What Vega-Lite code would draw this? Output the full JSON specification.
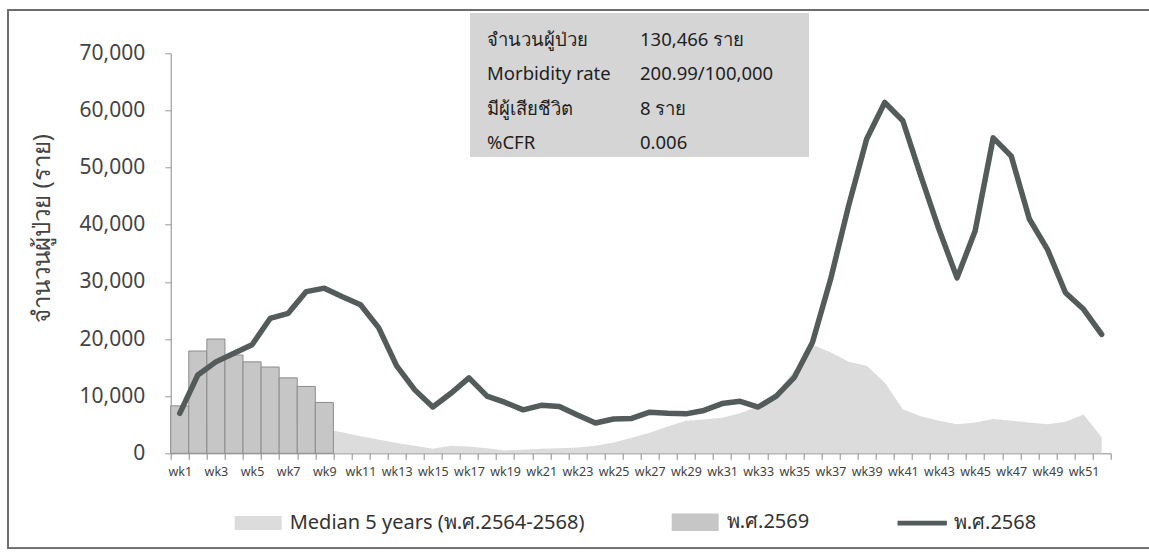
{
  "$schema": "https://vega.github.io/schema/vega-lite/v6.json",
  "width": 940,
  "height": 400,
  "autosize": {"type": "none"},
  "padding": {"left": 170.7, "top": 53.3, "right": 38.3, "bottom": 99.7},
  "background": "#ffffff",
  "config": {"view": {"stroke": null}, "font": "Noto Sans"},
  "datasets": {
    "weeks": [
      {"week": "wk1", "median": 5000, "y2569": 8300, "y2568": 7000},
      {"week": "wk2", "median": 5500, "y2569": 17900, "y2568": 13700},
      {"week": "wk3", "median": 5800, "y2569": 20000, "y2568": 16000},
      {"week": "wk4", "median": 5600, "y2569": 17200, "y2568": 17500},
      {"week": "wk5", "median": 5300, "y2569": 16000, "y2568": 19000},
      {"week": "wk6", "median": 5000, "y2569": 15100, "y2568": 23600},
      {"week": "wk7", "median": 4800, "y2569": 13200, "y2568": 24500},
      {"week": "wk8", "median": 4500, "y2569": 11700, "y2568": 28300},
      {"week": "wk9", "median": 4200, "y2569": 8900, "y2568": 28900},
      {"week": "wk10", "median": 3700, "y2569": null, "y2568": 27400},
      {"week": "wk11", "median": 3000, "y2569": null, "y2568": 26000},
      {"week": "wk12", "median": 2400, "y2569": null, "y2568": 22000},
      {"week": "wk13", "median": 1800, "y2569": null, "y2568": 15300},
      {"week": "wk14", "median": 1300, "y2569": null, "y2568": 11100},
      {"week": "wk15", "median": 800, "y2569": null, "y2568": 8100},
      {"week": "wk16", "median": 1300, "y2569": null, "y2568": 10500},
      {"week": "wk17", "median": 1200, "y2569": null, "y2568": 13200},
      {"week": "wk18", "median": 900, "y2569": null, "y2568": 10000},
      {"week": "wk19", "median": 500, "y2569": null, "y2568": 8900},
      {"week": "wk20", "median": 600, "y2569": null, "y2568": 7600},
      {"week": "wk21", "median": 800, "y2569": null, "y2568": 8400},
      {"week": "wk22", "median": 900, "y2569": null, "y2568": 8200},
      {"week": "wk23", "median": 1000, "y2569": null, "y2568": 6700},
      {"week": "wk24", "median": 1300, "y2569": null, "y2568": 5300},
      {"week": "wk25", "median": 1900, "y2569": null, "y2568": 6000},
      {"week": "wk26", "median": 2700, "y2569": null, "y2568": 6100},
      {"week": "wk27", "median": 3600, "y2569": null, "y2568": 7200},
      {"week": "wk28", "median": 4700, "y2569": null, "y2568": 7000},
      {"week": "wk29", "median": 5700, "y2569": null, "y2568": 6900},
      {"week": "wk30", "median": 5900, "y2569": null, "y2568": 7500},
      {"week": "wk31", "median": 6200, "y2569": null, "y2568": 8700},
      {"week": "wk32", "median": 7000, "y2569": null, "y2568": 9100},
      {"week": "wk33", "median": 8200, "y2569": null, "y2568": 8100},
      {"week": "wk34", "median": 10500, "y2569": null, "y2568": 10000},
      {"week": "wk35", "median": 14500, "y2569": null, "y2568": 13300},
      {"week": "wk36", "median": 19000, "y2569": null, "y2568": 19400},
      {"week": "wk37", "median": 17700, "y2569": null, "y2568": 30400},
      {"week": "wk38", "median": 16000, "y2569": null, "y2568": 43300},
      {"week": "wk39", "median": 15300, "y2569": null, "y2568": 55000},
      {"week": "wk40", "median": 12400, "y2569": null, "y2568": 61400},
      {"week": "wk41", "median": 7700, "y2569": null, "y2568": 58200},
      {"week": "wk42", "median": 6500, "y2569": null, "y2568": 48500},
      {"week": "wk43", "median": 5700, "y2569": null, "y2568": 39200},
      {"week": "wk44", "median": 5100, "y2569": null, "y2568": 30700},
      {"week": "wk45", "median": 5400, "y2569": null, "y2568": 38900},
      {"week": "wk46", "median": 6000, "y2569": null, "y2568": 55200},
      {"week": "wk47", "median": 5700, "y2569": null, "y2568": 52000},
      {"week": "wk48", "median": 5400, "y2569": null, "y2568": 41000},
      {"week": "wk49", "median": 5100, "y2569": null, "y2568": 35700},
      {"week": "wk50", "median": 5500, "y2569": null, "y2568": 28100},
      {"week": "wk51", "median": 6800, "y2569": null, "y2568": 25200},
      {"week": "wk52", "median": 2800, "y2569": null, "y2568": 20800}
    ],
    "summary": [
      {"row": 1, "label": "จำนวนผู้ป่วย", "value": "130,466 ราย"},
      {"row": 2, "label": "Morbidity rate", "value": "200.99/100,000"},
      {"row": 3, "label": "มีผู้เสียชีวิต", "value": "8 ราย"},
      {"row": 4, "label": "%CFR", "value": "0.006"}
    ],
    "series": [
      {"series": "Median 5 years (พ.ศ.2564-2568)"},
      {"series": "พ.ศ.2569"},
      {"series": "พ.ศ.2568"}
    ]
  },
  "layer": [
    {
      "data": {"name": "weeks"},
      "encoding": {
        "x": {
          "field": "week",
          "type": "ordinal",
          "sort": null,
          "scale": {"paddingInner": 0, "paddingOuter": 0},
          "axis": {
            "title": null,
            "labelAngle": 0,
            "labelOverlap": false,
            "labelExpr": "parseInt(substring(datum.value, 2)) % 2 == 1 ? datum.value : ''",
            "tickBand": "extent",
            "labelFontSize": 12.5,
            "labelColor": "#444444",
            "domainColor": "#8a8a8a",
            "tickColor": "#8a8a8a",
            "tickSize": 6,
            "labelPadding": 6
          }
        }
      },
      "layer": [
        {
          "mark": {"type": "area", "color": "#dcdcdc", "opacity": 1},
          "encoding": {
            "y": {
              "field": "median",
              "type": "quantitative",
              "scale": {"domain": [0, 70000], "nice": false},
              "axis": {
                "title": "จำนวนผู้ป่วย (ราย)",
                "titleFontSize": 24,
                "titleFontWeight": "normal",
                "titleColor": "#444444",
                "titleX": -128.7,
                "titleY": 174.7,
                "titleBaseline": "middle",
                "values": [0, 10000, 20000, 30000, 40000, 50000, 60000, 70000],
                "format": ",d",
                "grid": false,
                "labelFontSize": 21,
                "labelColor": "#444444",
                "labelPadding": 20,
                "domainColor": "#8a8a8a",
                "tickColor": "#9a9a9a",
                "tickSize": 6
              }
            }
          }
        },
        {
          "transform": [{"filter": "datum.y2569 != null"}],
          "mark": {"type": "bar", "color": "#c6c6c6", "stroke": "#8c8c8c", "strokeWidth": 1, "opacity": 1},
          "encoding": {
            "y": {"field": "y2569", "type": "quantitative", "title": "จำนวนผู้ป่วย (ราย)"}
          }
        },
        {
          "mark": {"type": "line", "color": "#545b5b", "strokeWidth": 5.5, "strokeJoin": "round", "strokeCap": "round"},
          "encoding": {
            "y": {"field": "y2568", "type": "quantitative", "title": "จำนวนผู้ป่วย (ราย)"}
          }
        }
      ]
    },
    {
      "data": {"name": "summary"},
      "layer": [
        {
          "mark": {"type": "rect", "fill": null, "stroke": "#6e6e6e", "strokeWidth": 1.5, "clip": false},
          "encoding": {
            "x": {"datum": -9.0, "type": "quantitative", "scale": {"domain": [0, 52], "nice": false, "zero": false}, "axis": null},
            "x2": {"datum": 54.6},
            "y": {"datum": 0.126, "type": "quantitative", "scale": {"domain": [1, 4], "range": [-13.3, 89.7], "nice": false, "zero": false}, "axis": null},
            "y2": {"datum": 15.8}
          }
        },
        {
          "mark": {"type": "rect", "color": "#d5d5d5", "clip": false},
          "encoding": {
            "x": {"datum": 16.56, "type": "quantitative"},
            "x2": {"datum": 35.31},
            "y": {"datum": 0.222, "type": "quantitative"},
            "y2": {"datum": 4.399}
          }
        },
        {
          "mark": {"type": "text", "align": "left", "baseline": "middle", "fontSize": 18.5, "color": "#1e1e1e", "clip": false},
          "encoding": {
            "x": {"datum": 17.5, "type": "quantitative"},
            "y": {"field": "row", "type": "quantitative"},
            "text": {"field": "label"}
          }
        },
        {
          "mark": {"type": "text", "align": "left", "baseline": "middle", "fontSize": 18.5, "color": "#1e1e1e", "clip": false},
          "encoding": {
            "x": {"datum": 25.96, "type": "quantitative"},
            "y": {"field": "row", "type": "quantitative"},
            "text": {"field": "value"}
          }
        }
      ]
    },
    {
      "data": {"name": "series"},
      "transform": [{"filter": "false"}],
      "mark": {"type": "point", "filled": true, "opacity": 1},
      "encoding": {
        "fill": {
          "field": "series",
          "type": "nominal",
          "scale": {
            "domain": ["Median 5 years (พ.ศ.2564-2568)", "พ.ศ.2569", "พ.ศ.2568"],
            "range": ["#dcdcdc", "#c6c6c6", "#545b5b"]
          },
          "legend": {
            "orient": "none",
            "legendX": 63,
            "legendY": 444,
            "direction": "horizontal",
            "title": null,
            "symbolSize": 2209,
            "symbolOpacity": 1,
            "labelFontSize": 20,
            "labelColor": "#333333",
            "labelOffset": 7,
            "columnPadding": 84,
            "labelLimit": 400
          }
        },
        "shape": {
          "field": "series",
          "type": "nominal",
          "scale": {
            "domain": ["Median 5 years (พ.ศ.2564-2568)", "พ.ศ.2569", "พ.ศ.2568"],
            "range": ["M-1,-0.3H1V0.3H-1Z", "M-1,-0.37H1V0.37H-1Z", "M-1.05,-0.1H1.05V0.1H-1.05Z"]
          },
          "legend": {
            "orient": "none",
            "legendX": 63,
            "legendY": 444,
            "direction": "horizontal",
            "title": null,
            "symbolSize": 2209,
            "symbolOpacity": 1,
            "labelFontSize": 20,
            "labelColor": "#333333",
            "labelOffset": 7,
            "columnPadding": 84,
            "labelLimit": 400
          }
        }
      }
    }
  ],
  "resolve": {"scale": {"x": "independent", "y": "independent"}}
}
